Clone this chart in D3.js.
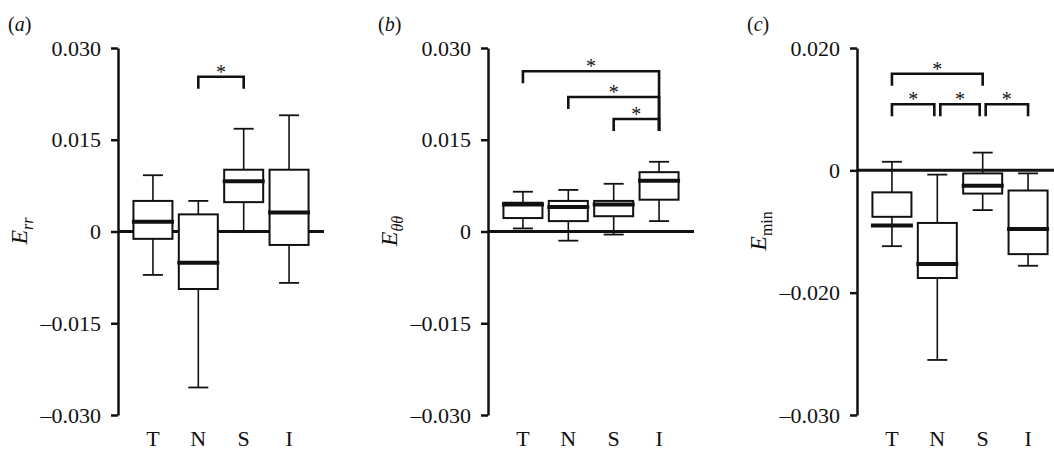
<!DOCTYPE html>
<html>
<head>
<meta charset="utf-8">
<script src="https://cdn.jsdelivr.net/npm/d3@7"></script>
<style>
  body { margin: 0; background: #fff; }
  svg { display: block; }
  text { font-family: "Liberation Serif", "DejaVu Serif", serif; fill: #111; }
</style>
</head>
<body>
<div id="chart"></div>
<script>
const categories = ["T", "N", "S", "I"];

// (a) E_rr
const errHigh   = [0.0092, 0.0050, 0.0168, 0.0190];
const errQ3     = [0.0050, 0.0028, 0.0101, 0.0101];
const errMedian = [0.0016, -0.0051, 0.0082, 0.0031];
const errQ1     = [-0.0012, -0.0094, 0.0048, -0.0022];
const errLow    = [-0.0071, -0.0255, 0.0000, -0.0084];
const errTicks  = [-0.03, -0.015, 0, 0.015, 0.03];
const errTickLabels = ["–0.030", "–0.015", "0", "0.015", "0.030"];
const errBrackets = [["N", "S", 0.0253]];

// (b) E_theta-theta
const ettHigh   = [0.0065, 0.0068, 0.0078, 0.0114];
const ettQ3     = [0.0047, 0.0050, 0.0050, 0.0097];
const ettMedian = [0.0044, 0.0040, 0.0044, 0.0083];
const ettQ1     = [0.0022, 0.0017, 0.0025, 0.0052];
const ettLow    = [0.0005, -0.0015, -0.0005, 0.0017];
const ettTicks  = [-0.03, -0.015, 0, 0.015, 0.03];
const ettTickLabels = ["–0.030", "–0.015", "0", "0.015", "0.030"];
const ettBrackets = [["T", "I", 0.0262], ["N", "I", 0.0220], ["S", "I", 0.0184]];

// (c) E_min  (tick labels as printed in the figure)
const eminHigh   = [0.0014, -0.0007, 0.0029, -0.0005];
const eminQ3     = [-0.0036, -0.0086, -0.0005, -0.0033];
const eminMedian = [-0.0090, -0.0153, -0.0025, -0.0096];
const eminQ1     = [-0.0076, -0.0176, -0.0038, -0.0137];
const eminLow    = [-0.0124, -0.0310, -0.0065, -0.0156];
const eminTicks  = [-0.04, -0.02, 0, 0.02];
const eminTickLabels = ["–0.030", "–0.020", "0", "0.020"];
const eminBrackets = [["T", "S", 0.0158], ["T", "N", 0.0108], ["N", "S", 0.0108], ["S", "I", 0.0108]];

const W = 1054, H = 450;
const yTop = 48, yBot = 415;
const plotW = 206;

const svg = d3.select("#chart").append("svg")
  .attr("width", W)
  .attr("height", H);

const panels = [
  { x0: 118, tag: "a", sub: "rr", subItalic: true, domain: [-0.03, 0.03],
    hi: errHigh, q3: errQ3, med: errMedian, q1: errQ1, lo: errLow,
    ticks: errTicks, tickLabels: errTickLabels, brackets: errBrackets, sharedLeg: false, inset: 0 },
  { x0: 488, tag: "b", sub: "θθ", subItalic: true, domain: [-0.03, 0.03],
    hi: ettHigh, q3: ettQ3, med: ettMedian, q1: ettQ1, lo: ettLow,
    ticks: ettTicks, tickLabels: ettTickLabels, brackets: ettBrackets, sharedLeg: true, inset: 0 },
  { x0: 857, tag: "c", sub: "min", subItalic: false, domain: [-0.04, 0.02],
    hi: eminHigh, q3: eminQ3, med: eminMedian, q1: eminQ1, lo: eminLow,
    ticks: eminTicks, tickLabels: eminTickLabels, brackets: eminBrackets, sharedLeg: false, inset: 3 }
];

panels.forEach(drawPanel);

function drawPanel(p) {
  const g = svg.append("g").attr("transform", "translate(" + p.x0 + ",0)");

  const y = d3.scaleLinear().domain(p.domain).range([yBot, yTop]);
  const x = d3.scalePoint().domain(categories).range([0, plotW]).padding(0.77);

  const rows = categories.map(function (c, i) {
    return { c: c, hi: p.hi[i], q3: p.q3[i], med: p.med[i], q1: p.q1[i], lo: p.lo[i] };
  });

  // zero line
  g.append("line")
    .attr("x1", 0).attr("x2", plotW)
    .attr("y1", y(0)).attr("y2", y(0))
    .attr("stroke", "#111").attr("stroke-width", 3);

  const box = g.selectAll(".box").data(rows).join("g").attr("class", "box");

  // whiskers
  box.append("line")
    .attr("x1", d => x(d.c)).attr("x2", d => x(d.c))
    .attr("y1", d => y(d.lo)).attr("y2", d => y(d.hi))
    .attr("stroke", "#111").attr("stroke-width", 1.6);
  box.append("line")
    .attr("x1", d => x(d.c) - 10).attr("x2", d => x(d.c) + 10)
    .attr("y1", d => y(d.hi)).attr("y2", d => y(d.hi))
    .attr("stroke", "#111").attr("stroke-width", 1.8);
  box.append("line")
    .attr("x1", d => x(d.c) - 10).attr("x2", d => x(d.c) + 10)
    .attr("y1", d => y(d.lo)).attr("y2", d => y(d.lo))
    .attr("stroke", "#111").attr("stroke-width", 1.8);

  // box
  box.append("rect")
    .attr("x", d => x(d.c) - 19.5)
    .attr("width", 39)
    .attr("y", d => y(d.q3))
    .attr("height", d => y(d.q1) - y(d.q3))
    .attr("fill", "#fff")
    .attr("stroke", "#111").attr("stroke-width", 2);

  // median
  box.append("line")
    .attr("x1", d => x(d.c) - 21).attr("x2", d => x(d.c) + 21)
    .attr("y1", d => y(d.med)).attr("y2", d => y(d.med))
    .attr("stroke", "#111").attr("stroke-width", 4);

  // axis
  const ax = g.append("g").call(
    d3.axisLeft(y)
      .tickValues(p.ticks)
      .tickFormat((d, i) => p.tickLabels[i])
      .tickSize(7)
      .tickSizeOuter(0)
      .tickPadding(10)
  );
  ax.select(".domain").attr("stroke", "#111").attr("stroke-width", 2.5);
  ax.selectAll(".tick line").attr("stroke", "#111").attr("stroke-width", 2.5);
  ax.selectAll(".tick text")
    .attr("font-family", "Liberation Serif")
    .attr("font-size", 22)
    .attr("fill", "#111");

  // category labels
  g.selectAll(".cat").data(categories).join("text")
    .attr("class", "cat")
    .attr("x", d => x(d))
    .attr("y", 446)
    .attr("text-anchor", "middle")
    .attr("font-size", 22)
    .text(d => d);

  // significance brackets
  const lowestByEnd = {};
  p.brackets.forEach(b => {
    lowestByEnd[b[1]] = Math.min(lowestByEnd[b[1]] === undefined ? Infinity : lowestByEnd[b[1]], b[2]);
  });
  p.brackets.forEach(b => {
    const sameLevel = p.brackets.filter(o => o !== b && o[2] === b[2]);
    const leftShared = sameLevel.some(o => o[1] === b[0]);
    const rightShared = sameLevel.some(o => o[0] === b[1]);
    const x1 = x(b[0]) + (leftShared ? p.inset : 0);
    const x2 = x(b[1]) - (rightShared ? p.inset : 0);
    const yb = y(b[2]);
    const yLeft = yb + 12;
    const yRight = p.sharedLeg ? y(lowestByEnd[b[1]]) + 12 : yb + 12;
    g.append("path")
      .attr("d", "M" + x1 + "," + yLeft + "V" + yb + "H" + x2 + "V" + yRight)
      .attr("fill", "none")
      .attr("stroke", "#111").attr("stroke-width", 2.6);
    g.append("text")
      .attr("x", (x1 + x2) / 2)
      .attr("y", yb + 2)
      .attr("text-anchor", "middle")
      .attr("font-size", 20)
      .text("*");
  });

  // y label
  const yl = g.append("text")
    .attr("transform", "translate(-91,231) rotate(-90)")
    .attr("text-anchor", "middle")
    .attr("font-size", 24);
  yl.append("tspan").attr("font-style", "italic").text("E");
  yl.append("tspan")
    .attr("font-size", 16)
    .attr("dy", 6)
    .attr("font-style", p.subItalic ? "italic" : "normal")
    .text(p.sub);

  // panel tag
  const tg = svg.append("text")
    .attr("x", p.x0 - 110)
    .attr("y", 31)
    .attr("font-size", 20);
  tg.append("tspan").text("(");
  tg.append("tspan").attr("font-style", "italic").text(p.tag);
  tg.append("tspan").text(")");
}
</script>
</body>
</html>
